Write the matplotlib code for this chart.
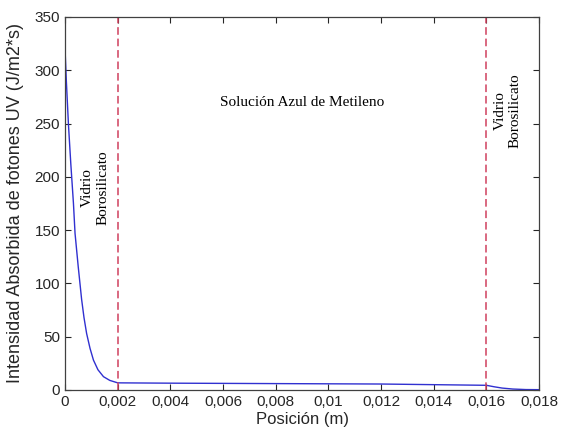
import matplotlib
matplotlib.use('Agg')
import matplotlib.pyplot as plt
from matplotlib.ticker import FuncFormatter

# posicion (m) e intensidad absorbida
posicion = [0, 0.00005, 0.00013, 0.00022, 0.00032, 0.00038, 0.0005, 0.00063,
            0.00072, 0.00082, 0.00095, 0.00108, 0.00125, 0.00146, 0.0017, 0.002,
            0.004, 0.006, 0.008, 0.010, 0.012, 0.013, 0.014, 0.015, 0.016,
            0.0163, 0.0166, 0.017, 0.0175, 0.018]
intensidad = [320, 290, 249, 212, 175, 147, 116, 85,
              68, 53, 39, 28, 19, 12.5, 9, 6.7,
              6.4, 6.2, 6.0, 5.8, 5.6, 5.3, 5.0, 4.7, 4.4,
              3.0, 1.8, 0.9, 0.4, 0.3]

limites = [0.002, 0.016]
x_ticks = [0, 0.002, 0.004, 0.006, 0.008, 0.01, 0.012, 0.014, 0.016, 0.018]
y_ticks = [0, 50, 100, 150, 200, 250, 300, 350]

plt.rcParams['font.family'] = 'Liberation Sans'

fig = plt.figure(figsize=(5.63, 4.34), dpi=100)
ax = fig.add_axes([0.1155, 0.1014, 0.8419, 0.8596])

ax.plot(posicion, intensidad, color='#3030d0', lw=1.0)
for xl in limites:
    ax.axvline(xl, color='#d0405e', ls=(0, (5, 2.5)), lw=1.1)

serif = 'Liberation Serif'
ax.text(0.00114, 190, 'Vidrio\nBorosilicato', rotation=90, ha='center', va='center',
        multialignment='center', family=serif, fontsize=11)
ax.text(0.01682, 262, 'Vidrio\nBorosilicato', rotation=90, ha='center', va='center',
        multialignment='center', family=serif, fontsize=11)
ax.text(0.0090, 270, 'Solución Azul de Metileno', ha='center', va='center',
        family=serif, fontsize=11)

ax.set_xlim(0, 0.018)
ax.set_ylim(0, 350)
ax.set_xticks(x_ticks)
ax.set_yticks(y_ticks)
ax.xaxis.set_major_formatter(FuncFormatter(lambda v, p: ('%g' % round(v, 4)).replace('.', ',')))
ax.tick_params(direction='in', top=True, right=True, labelsize=11, colors='#262626',
               length=4, width=0.8)
for s in ax.spines.values():
    s.set_color('#404040')
    s.set_linewidth(0.9)

ax.set_xlabel('Posición (m)', fontsize=12, color='#262626', labelpad=2)
ax.set_ylabel('Intensidad Absorbida de fotones UV (J/m2*s)', fontsize=13,
              color='#262626', labelpad=8)

fig.savefig('out.png', dpi=100)
